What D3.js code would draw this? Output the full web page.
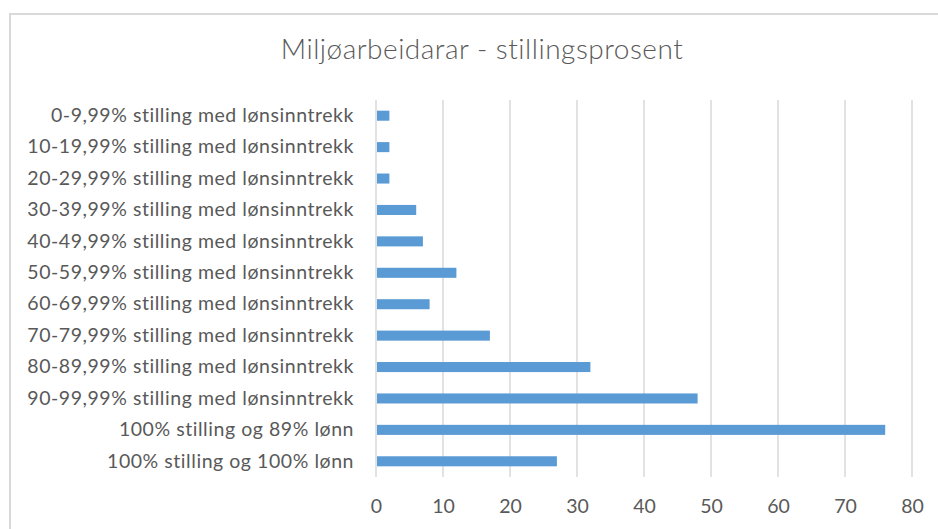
<!DOCTYPE html>
<html>
<head>
<meta charset="utf-8">
<script src="https://cdn.jsdelivr.net/npm/d3@7"></script>
<style>
  html, body { margin: 0; padding: 0; background: #fff; }
  svg { display: block; }
  text { font-family: Lato, "Open Sans", sans-serif; fill: #595959; }
</style>
</head>
<body>
<svg id="chart" width="938" height="529"></svg>
<script>
const title = "Miljøarbeidarar - stillingsprosent";
const categories = [
  "0-9,99% stilling med lønsinntrekk",
  "10-19,99% stilling med lønsinntrekk",
  "20-29,99% stilling med lønsinntrekk",
  "30-39,99% stilling med lønsinntrekk",
  "40-49,99% stilling med lønsinntrekk",
  "50-59,99% stilling med lønsinntrekk",
  "60-69,99% stilling med lønsinntrekk",
  "70-79,99% stilling med lønsinntrekk",
  "80-89,99% stilling med lønsinntrekk",
  "90-99,99% stilling med lønsinntrekk",
  "100% stilling og 89% lønn",
  "100% stilling og 100% lønn"
];
const values = [2, 2, 2, 6, 7, 12, 8, 17, 32, 48, 76, 27];
const xTicks = [0, 10, 20, 30, 40, 50, 60, 70, 80];

const svg = d3.select("#chart");

// chart frame
svg.append("rect")
  .attr("x", 10).attr("y", 14)
  .attr("width", 1000).attr("height", 600)
  .attr("fill", "none")
  .attr("stroke", "#d9d9d9")
  .attr("stroke-width", 2);

const pLeft = 376, pRight = 912, pTop = 100, pBottom = 477;

const x = d3.scaleLinear().domain([0, 80]).range([pLeft, pRight]);
const y = d3.scaleBand().domain(categories).range([pTop, pBottom]).paddingInner(0.68).paddingOuter(0.34);

// title
svg.append("text")
  .attr("x", 482).attr("y", 59)
  .attr("text-anchor", "middle")
  .style("font-size", "28px")
  .style("font-weight", "300")
  .style("letter-spacing", "0.5px")
  .text(title);

// gridlines
svg.append("g").selectAll("line")
  .data(xTicks)
  .join("line")
  .attr("x1", d => x(d)).attr("x2", d => x(d))
  .attr("y1", pTop).attr("y2", pBottom)
  .attr("stroke", "#d9d9d9")
  .attr("stroke-width", 1.5);

// x axis labels
const xAxis = d3.axisBottom(x).tickValues(xTicks).tickSize(0).tickPadding(0);
const gx = svg.append("g").attr("transform", `translate(0,${pBottom + 22})`).call(xAxis);
gx.select(".domain").remove();
gx.selectAll("text").style("font-size", "19.5px").attr("fill", "#595959").attr("dy", "0.71em")
  .attr("font-family", "Lato, 'Open Sans', sans-serif");

// y axis labels
const yAxis = d3.axisLeft(y).tickSize(0).tickPadding(0);
const gy = svg.append("g").attr("transform", `translate(${pLeft - 22},0)`).call(yAxis);
gy.select(".domain").remove();
gy.selectAll("text").style("font-size", "19.5px").attr("fill", "#595959")
  .attr("font-family", "Lato, 'Open Sans', sans-serif")
  .style("letter-spacing", "0.55px");

// bars
svg.append("g").selectAll("rect")
  .data(categories.map((c, i) => ({ c, v: values[i] })))
  .join("rect")
  .attr("x", x(0) + 1)
  .attr("y", d => y(d.c))
  .attr("width", d => x(d.v) - x(0) - 1)
  .attr("height", y.bandwidth())
  .attr("fill", "#5b9bd5");
</script>
</body>
</html>
